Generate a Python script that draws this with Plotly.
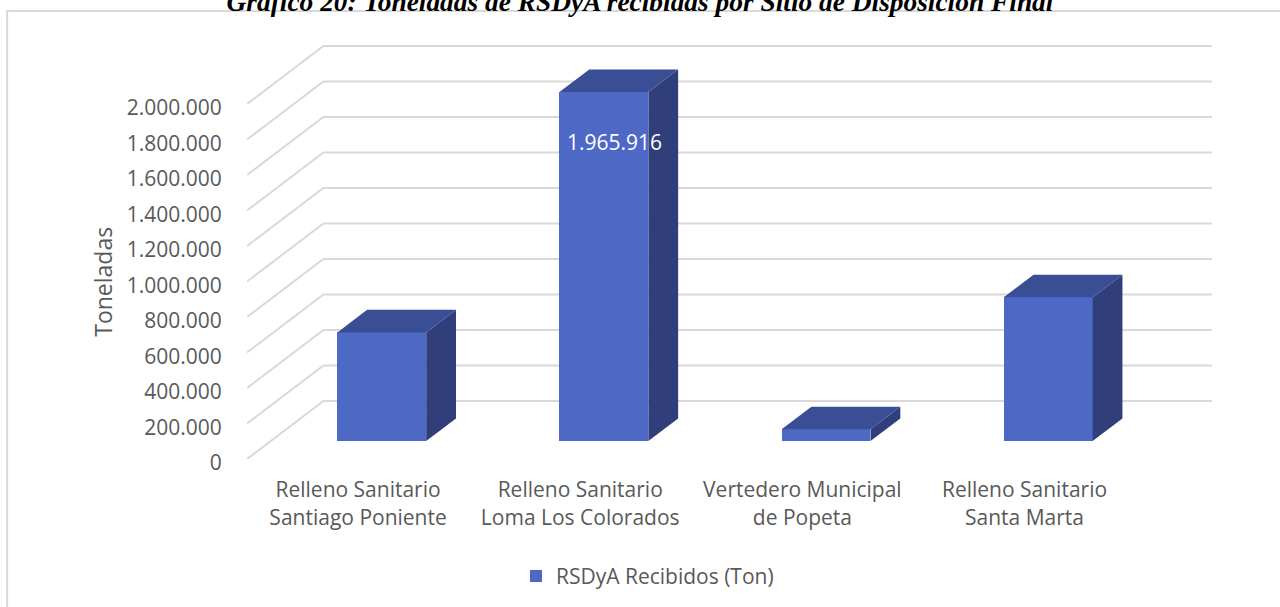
import plotly.graph_objects as go

categories = ["Relleno Sanitario<br>Santiago Poniente", "Relleno Sanitario<br>Loma Los Colorados",
              "Vertedero Municipal<br>de Popeta", "Relleno Sanitario<br>Santa Marta"]
values = [612000, 1965916, 66000, 810000]
y_ticks = [0, 200000, 400000, 600000, 800000, 1000000, 1200000, 1400000, 1600000, 1800000, 2000000]
series_name = "RSDyA Recibidos (Ton)"
title_text = "Gráfico 20: Toneladas de RSDyA recibidas por Sitio de Disposición Final"
y_title = "Toneladas"

# oblique projection of the depth axis, in data units
DX, DY = 0.344, 326761
F0, F1 = 0.31, 0.70
HALF = 0.20
FRONT, SIDE, TOP = "#4E68C6", "#303F7A", "#3A4E96"
GRID = "#D9D9D9"
TXT = "#595959"
FONT = "Open Sans"
FS = 21
ids = list(range(len(categories)))
xmin, xmax = -0.5, 3.5 + DX
ymax = 2000000 + DY + 34000
fmt = lambda v: f"{v:,}".replace(",", ".")

fig = go.Figure()
fig.add_trace(go.Bar(x=[i + F0 * DX for i in ids], y=values, base=[F0 * DY] * 4, width=2 * HALF,
                     marker=dict(color=FRONT, line=dict(width=0)), name=series_name,
                     showlegend=True, hoverinfo="y"))
for i, v in zip(ids, values):
    xl, xr = i + F0 * DX - HALF, i + F0 * DX + HALF
    b, t = F0 * DY, F0 * DY + v
    ddx, ddy = (F1 - F0) * DX, (F1 - F0) * DY
    fig.add_trace(go.Scatter(x=[xr, xr + ddx, xr + ddx, xr, xr], y=[b, b + ddy, t + ddy, t, b],
                             mode="lines", fill="toself", fillcolor=SIDE, line=dict(width=0),
                             showlegend=False, hoverinfo="skip"))
    fig.add_trace(go.Scatter(x=[xl, xr, xr + ddx, xl + ddx, xl], y=[t, t, t + ddy, t + ddy, t],
                             mode="lines", fill="toself", fillcolor=TOP, line=dict(width=0),
                             showlegend=False, hoverinfo="skip"))

shapes = [dict(type="path", xref="x", yref="y", layer="below",
               path=f"M{xmin},{v} L{xmin + DX},{v + DY} L{xmax},{v + DY}",
               line=dict(color=GRID, width=2)) for v in y_ticks]
# chart frame (left and top edges; the others fall outside the crop)
shapes.append(dict(type="rect", xref="paper", yref="paper", layer="below",
                   x0=(7 - 247) / 965.5, x1=1.2, y0=-0.6, y1=(459.5 - 11) / 419.5,
                   line=dict(color=GRID, width=2), fillcolor="rgba(0,0,0,0)"))

fig.update_layout(
    width=1280, height=607, autosize=False,
    margin=dict(l=247, r=67.5, t=40, b=147.5, autoexpand=False),
    paper_bgcolor="white", plot_bgcolor="rgba(0,0,0,0)",
    font=dict(family=FONT, size=FS, color=TXT),
    title=dict(text=f"<b><i>{title_text}</i></b>", x=0.5, xanchor="center", xref="container",
               y=0.998, yref="container", yanchor="middle",
               font=dict(family="Liberation Serif", size=27.4, color="#000000")),
    xaxis=dict(range=[xmin, xmax], tickvals=ids, ticktext=categories, showgrid=False, zeroline=False,
               showline=False, ticks="outside", ticklen=12, tickcolor="rgba(0,0,0,0)",
               tickfont=dict(family=FONT, size=FS, color=TXT)),
    yaxis=dict(range=[0, ymax], tickvals=y_ticks, ticktext=[fmt(v) for v in y_ticks], showgrid=False,
               zeroline=False, showline=False, ticks="outside", ticklen=20, tickcolor="rgba(0,0,0,0)",
               ticklabelshift=4,
               tickfont=dict(family=FONT, size=FS, color=TXT)),
    legend=dict(orientation="h", x=0.415, xanchor="center", y=-0.280, yanchor="middle",
                font=dict(family=FONT, size=FS, color=TXT), bgcolor="rgba(0,0,0,0)"),
    shapes=shapes,
    annotations=[dict(x=1 + F0 * DX + 0.047, y=F0 * DY + values[1] - 280000, xref="x", yref="y",
                      text=fmt(values[1]), showarrow=False,
                      font=dict(family=FONT, size=FS, color="white")),
                 dict(x=(103 - 247) / 965.5, y=(459.5 - 282) / 419.5, xref="paper", yref="paper",
                      xanchor="center", yanchor="middle",
                      text=y_title, textangle=-90, showarrow=False,
                      font=dict(family=FONT, size=23, color=TXT))],
    bargap=0,
)
fig.write_html("out.html", config={"displayModeBar": False},
               post_script="document.body.style.margin='0';document.body.style.overflow='hidden';")
